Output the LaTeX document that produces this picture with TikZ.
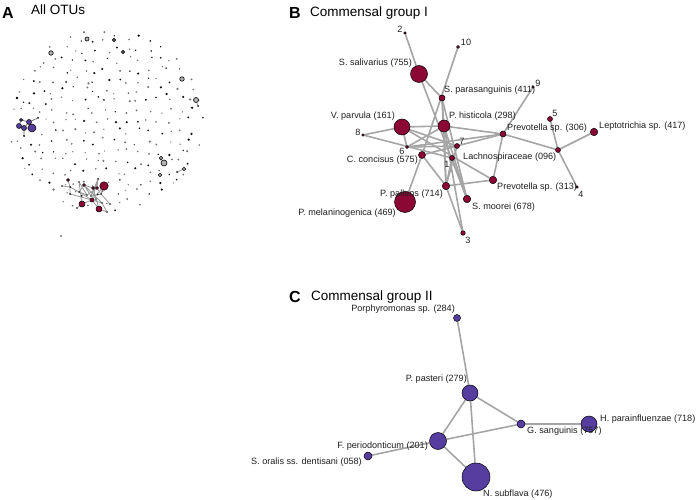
\documentclass[tikz,border=0pt]{standalone}
\usepackage{fontspec}
\setmainfont{Liberation Sans}
\usetikzlibrary{backgrounds}
\definecolor{rd}{RGB}{140,8,52}
\definecolor{bl}{RGB}{86,62,160}
\definecolor{eg}{RGB}{165,165,165}
\definecolor{lbc}{RGB}{30,30,30}
\begin{document}
\begin{tikzpicture}[x=1pt,y=-1pt,
  rn/.style={circle,draw=black,line width=0.5pt,fill=rd,inner sep=0pt},
  bn/.style={circle,draw=black,line width=0.5pt,fill=bl,inner sep=0pt},
  kn/.style={circle,fill=black,inner sep=0pt,minimum size=2pt},
  gn/.style={circle,draw=black,line width=0.6pt,fill=black!30,inner sep=0pt},
  ed/.style={draw=eg,line width=1.6pt},
  eda/.style={draw=black!40,line width=0.8pt},
  lb/.style={font=\fontsize{9.1}{11}\selectfont,text=lbc,inner sep=0pt},
  ttl/.style={font=\fontsize{13.5}{16}\selectfont,inner sep=0pt,anchor=base west},
  pl/.style={font=\fontsize{16}{18}\selectfont\bfseries,inner sep=0pt,anchor=base west}]
\useasboundingbox (0,0) rectangle (696,500);

% ---------------- titles
\node[pl] (tA) at (2,18.5) {A};
\node[ttl] (tAt) at (31,15) {All OTUs};
\node[pl] (tB) at (289,19) {B};
\node[ttl] (tBt) at (310,17) {Commensal group I};
\node[pl] (tC) at (289,302) {C};
\node[ttl] (tCt) at (311,300) {Commensal group II};

% ---------------- panel A : isolated OTUs
\pgfmathsetseed{11}
\foreach \i in {-9,...,9}{
  \foreach \j in {-9,...,9}{
    \pgfmathsetmacro\px{\i*10.6+3.8*rand}
    \pgfmathsetmacro\py{\j*10.2+3.8*rand}
    \pgfmathtruncatemacro\ins{((\px)*(\px)/9409+(\py)*(\py)/8464)<1 ? 1 : 0}
    \pgfmathtruncatemacro\gv{rnd<0.55 ? 55 : 95}
    \pgfmathsetmacro\ss{0.65+0.6*rnd}
    \ifnum\ins=1
      \fill[black!\gv] ({106+\px},{121+\py}) circle (\ss pt);
    \fi
  }
}
\fill[black!80] (61,236) circle (0.9pt);

% gray ring nodes
\node[gn,minimum size=4pt] (g1) at (87,39) {};
\node[gn,minimum size=3.5pt,fill=black!60] (g2) at (114,40) {};
\node[gn,minimum size=4.5pt] (g3) at (51,53) {};
\node[gn,minimum size=3.5pt,fill=black!60] (g4) at (123,52) {};
\node[gn,minimum size=4.5pt] (g5) at (182,79) {};
\node[gn,minimum size=5pt] (g6) at (196,100) {};
\node[kn] (g6b) at (198,106) {};
\node[gn,minimum size=3.5pt] (g7) at (161,158) {};
\node[gn,minimum size=6pt] (g8) at (164,163) {};
\node[gn,minimum size=3.5pt] (g9) at (160,175) {};
\node[gn,minimum size=3.5pt] (g10) at (184,169) {};
\node[kn] (g10b) at (177,172) {};
\fill[black] (17,98) circle (1.4pt);

% blue cluster in A
\node[bn,minimum size=5pt] (ab1) at (19,126) {};
\node[bn,minimum size=5pt] (ab2) at (24,128) {};
\node[bn,minimum size=5pt] (ab3) at (29,122) {};
\node[bn,minimum size=8pt] (ab4) at (32,128) {};
\node[bn,minimum size=3pt] (ab5) at (21,120) {};
\node[kn] (ab6) at (38,118) {};
\node[kn] (ab7) at (24,136) {};

% red cluster in A
\node[rn,minimum size=8.5pt] (a1) at (104,186) {};
\node[rn,minimum size=6pt] (a2) at (82,204) {};
\node[rn,minimum size=6pt] (a3) at (99,209) {};
\node[rn,minimum size=4pt] (a4) at (92,200) {};
\node[rn,minimum size=3pt] (a5) at (68,180) {};
\node[rn,minimum size=2.8pt] (a6) at (84,185) {};
\node[rn,minimum size=3pt] (a7) at (93,188) {};
\node[rn,minimum size=3pt] (a8) at (97,188) {};
\node[kn] (k1) at (101,194) {};
\node[kn] (k2) at (79,192) {};
\node[kn] (k3) at (70,187) {};
\node[kn,minimum size=1.6pt] (k4) at (62,186) {};
\node[kn] (k5) at (70,194) {};
\node[kn,minimum size=1.6pt] (k6) at (79,182) {};
\node[kn] (k7) at (98,179) {};
\node[kn,minimum size=1.6pt] (k8) at (87,195) {};
\node[kn,minimum size=1.6pt] (k9) at (91,196) {};
\node[kn,minimum size=1.6pt] (k10) at (110,204) {};
\node[kn,minimum size=1.6pt] (k11) at (102,203) {};
\node[kn,minimum size=1.6pt] (k12) at (107,212) {};
\node[kn,minimum size=1.6pt] (k13) at (77,208) {};

\begin{scope}[on background layer]
  \draw[eda] (g6) -- (g6b);
  \draw[eda] (g10) -- (g10b);
  \draw[eda] (g7) -- (g8);
  \draw[draw=black!60,line width=0.7pt] (ab5) -- (ab3) -- (ab6) (ab1) -- (ab2) -- (ab4) (ab2) -- (ab3) -- (ab4) (ab2) -- (ab7) (ab5) -- (ab1);
  \draw[eda] (k4) -- (k3) -- (k2) -- (a6) -- (a7) -- (a8) -- (k1) -- (k10);
  \draw[eda] (a5) -- (k3) (k3) -- (k5) -- (a4) (k2) -- (k8) -- (a8) (k6) -- (k8) (k6) -- (a2);
  \draw[eda] (k7) -- (a8) (k7) -- (k9) (k7) -- (a4) (a4) -- (a2) (a4) -- (a3) (a4) -- (k11) (a2) -- (k13);
  \draw[eda] (a3) -- (k12) (k9) -- (k1) (a6) -- (k9) (k2) -- (a4) (a1) -- (k1) (a1) -- (a4) (k11) -- (k12) (a7) -- (a3) (a6) -- (k11);
\end{scope}

% ---------------- panel B
\node[rn,minimum size=17pt] (sal) at (419,74) {};
\node[rn,minimum size=6pt] (spa) at (442,98) {};
\node[rn,minimum size=12pt] (his) at (444,126) {};
\node[rn,minimum size=16pt] (vpa) at (402,127) {};
\node[rn,minimum size=2.4pt] (n8) at (363,135) {};
\node[rn,minimum size=3pt] (n6) at (407,147) {};
\node[rn,minimum size=5pt] (n7) at (457,146) {};
\node[rn,minimum size=7pt] (cco) at (422,155) {};
\node[rn,minimum size=5pt] (lac) at (452,158) {};
\node[rn,minimum size=6pt] (p306) at (503,134) {};
\node[rn,minimum size=2.6pt] (n9) at (533,87) {};
\node[rn,minimum size=5pt] (n5) at (550,119) {};
\node[rn,minimum size=7.5pt] (lep) at (594,132) {};
\node[rn,minimum size=5pt] (lch) at (558,150) {};
\node[rn,minimum size=2.6pt] (n4) at (577,187) {};
\node[rn,minimum size=7.5pt] (p313) at (493,180) {};
\node[rn,minimum size=7.5pt] (ppa) at (446,186) {};
\node[rn,minimum size=7.5pt] (smo) at (467,199) {};
\node[rn,minimum size=21pt] (pme) at (405,202) {};
\node[rn,minimum size=4.5pt] (n3) at (463,233) {};
\node[rn,minimum size=2.6pt] (n2) at (405,33) {};
\node[rn,minimum size=3pt] (n10) at (458,47) {};

\begin{scope}[on background layer]
  \draw[ed] (n2) -- (sal);
  \draw[ed] (sal) -- (spa);
  \draw[ed] (sal) -- (smo);
  \draw[ed] (n10) -- (cco);
  \draw[ed] (spa) -- (his);
  \draw[ed] (spa) -- (ppa);
  \draw[ed] (spa) -- (smo);
  \draw[ed] (vpa) -- (his);
  \draw[ed] (vpa) -- (n8);
  \draw[ed] (vpa) -- (n6);
  \draw[ed] (vpa) -- (p313);
  \draw[ed] (vpa) -- (n7);
  \draw[ed] (n8) -- (lac);
  \draw[ed] (n6) -- (n7);
  \draw[ed] (n6) -- (his);
  \draw[ed] (n6) -- (p306);
  \draw[ed] (cco) -- (p306);
  \draw[ed] (cco) -- (pme);
  \draw[ed] (cco) -- (ppa);
  \draw[ed] (his) -- (p306);
  \draw[ed] (his) -- (ppa);
  \draw[ed] (his) -- (smo);
  \draw[ed] (his) -- (n3);
  \draw[ed] (n7) -- (ppa);
  \draw[ed] (lac) -- (smo);
  \draw[ed] (lac) -- (ppa);
  \draw[ed] (p306) -- (p313);
  \draw[ed] (p306) -- (lch);
  \draw[ed] (p306) -- (n9);
  \draw[ed] (lch) -- (n5);
  \draw[ed] (lch) -- (lep);
  \draw[ed] (lch) -- (n4);
  \draw[ed] (ppa) -- (p313);
  \draw[ed] (ppa) -- (n3);
\end{scope}

\node[lb,anchor=center] (l2) at (400,29) {2};
\node[lb,anchor=center] (l10) at (466,42) {10};
\node[lb,anchor=east] (lsal) at (412,63) {S. salivarius (755)};
\node[lb,anchor=west] (lspa) at (444,90) {S. parasanguinis (411)};
\node[lb,anchor=west] (lhis) at (449,116) {P. histicola (298)};
\node[lb,anchor=east] (lvpa) at (395,116) {V. parvula (161)};
\node[lb,anchor=center] (l8) at (358,132) {8};
\node[lb,anchor=center] (l6) at (402,151) {6};
\node[lb,anchor=center] (l7) at (462,141) {7};
\node[lb,anchor=center] (l1) at (447,164) {1};
\node[lb,anchor=east] (lcco) at (418,160) {C. concisus (575)};
\node[lb,anchor=west] (llac) at (463,157) {Lachnospiraceae (096)};
\node[lb,anchor=west] (lp306) at (507,128) {Prevotella sp. (306)};
\node[lb,anchor=west] (llep) at (599,126) {Leptotrichia sp. (417)};
\node[lb,anchor=center] (l5) at (555,113) {5};
\node[lb,anchor=center] (l9) at (538,83) {9};
\node[lb,anchor=center] (l4) at (581,194) {4};
\node[lb,anchor=west] (lp313) at (497,187) {Prevotella sp. (313)};
\node[lb,anchor=east] (lppa) at (443,194) {P. pallens (714)};
\node[lb,anchor=east] (lpme) at (396,213) {P. melaninogenica (469)};
\node[lb,anchor=west] (lsmo) at (472,207) {S. moorei (678)};
\node[lb,anchor=center] (l3) at (468,240) {3};

% ---------------- panel C
\node[bn,minimum size=7pt] (por) at (457,318) {};
\node[bn,minimum size=16pt] (pas) at (470,393) {};
\node[bn,minimum size=17pt] (fpe) at (438,441) {};
\node[bn,minimum size=8pt] (sor) at (368,456) {};
\node[bn,minimum size=28pt] (nsu) at (476,477) {};
\node[bn,minimum size=8pt] (gsa) at (521,424) {};
\node[bn,minimum size=16pt] (hpa) at (589,424) {};

\begin{scope}[on background layer]
  \draw[ed] (por) -- (pas);
  \draw[ed] (pas) -- (fpe);
  \draw[ed] (pas) -- (nsu);
  \draw[ed] (pas) -- (gsa);
  \draw[ed] (fpe) -- (gsa);
  \draw[ed] (fpe) -- (nsu);
  \draw[ed] (fpe) -- (sor);
  \draw[ed] (gsa) -- (hpa);
\end{scope}

\node[lb,anchor=east] (lpor) at (455,309) {Porphyromonas sp. (284)};
\node[lb,anchor=east] (lpas) at (467,379) {P. pasteri (279)};
\node[lb,anchor=east] (lfpe) at (428,446) {F. periodonticum (201)};
\node[lb,anchor=east] (lsor) at (362,462) {S. oralis ss. dentisani (058)};
\node[lb,anchor=west] (lgsa) at (527,431) {G. sanguinis (757)};
\node[lb,anchor=west] (lhpa) at (600,419) {H. parainfluenzae (718)};
\node[lb,anchor=west] (lnsu) at (483,494) {N. subflava (476)};
\end{tikzpicture}
\end{document}
